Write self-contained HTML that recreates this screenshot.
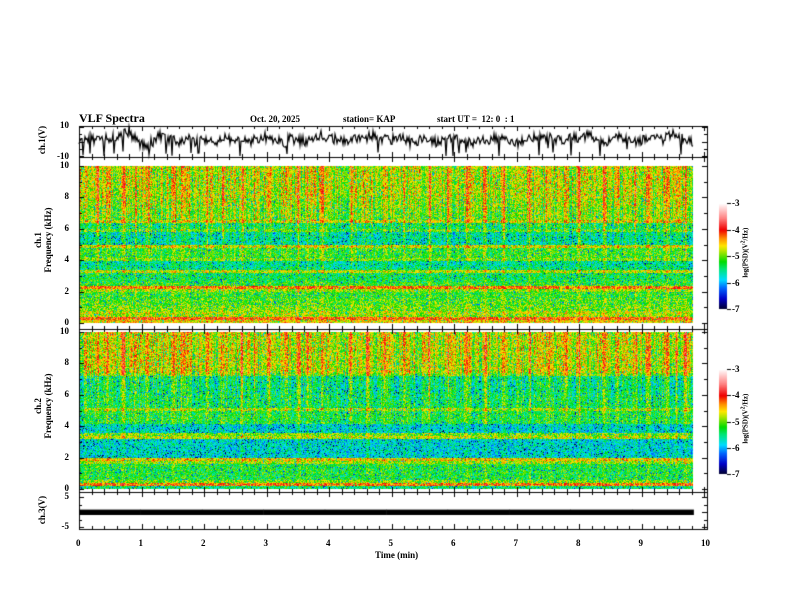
<!DOCTYPE html>
<html><head><meta charset="utf-8">
<style>
html,body{margin:0;padding:0;background:#fff;}
#wrap{position:relative;width:792px;height:612px;overflow:hidden;font-family:"Liberation Serif",serif;font-weight:bold;color:#000;}
.t{position:absolute;font-size:9px;white-space:nowrap;}
canvas{position:absolute;left:0;top:0;}
</style></head>
<body>
<div id="wrap">
<canvas id="cv" width="792" height="612"></canvas>
<div class="t" style="left:79px;top:111px;font-size:12px;">VLF Spectra</div>
<div class="t" style="left:250px;top:114px;">Oct. 20, 2025</div>
<div class="t" style="left:343px;top:114px;">station= KAP</div>
<div class="t" style="left:437px;top:114px;">start UT =&nbsp;&nbsp;12: 0&nbsp;&nbsp;: 1</div>
<div class="t" style="left:22px;top:135px;transform:rotate(-90deg);transform-origin:center;width:40px;text-align:center;">ch.1(V)</div>
<div class="t" style="left:-17px;top:230px;transform:rotate(-90deg);width:120px;text-align:center;line-height:10px;">ch.1<br>Frequency (kHz)</div>
<div class="t" style="left:-17px;top:396px;transform:rotate(-90deg);width:120px;text-align:center;line-height:10px;">ch.2<br>Frequency (kHz)</div>
<div class="t" style="left:22px;top:505px;transform:rotate(-90deg);width:40px;text-align:center;">ch.3(V)</div>
<div class="t" style="left:375px;top:550px;">Time (min)</div>
<div class="t" style="left:700px;top:248px;transform:rotate(-90deg);width:90px;text-align:center;font-size:7px;">log(PSD)(V<sup>2</sup>/Hz)</div>
<div class="t" style="left:700px;top:414px;transform:rotate(-90deg);width:90px;text-align:center;font-size:7px;">log(PSD)(V<sup>2</sup>/Hz)</div>
<div id="labels"></div>
</div>
<script>
// ---- data ----
const xTicks = [0,1,2,3,4,5,6,7,8,9,10];
const freqTicks = [0,2,4,6,8,10];
const cbTicks = [-3,-4,-5,-6,-7];
const dataEndMin = 9.83;
// ch1 waveform (V), evenly spaced 0..dataEndMin
const ch1Values = [0,1,2,1,3,2,4,6,7,2,-2,-2,0,4,3,1,0,2,1,-1,2,1,0,3,2,1,-1,0,1,2,3,1,0,-1,2,1,0,1,2,4,3,2,1,0,3,2,1,5,3,2,1,2,3,0,-1,1,2,0,-1,1,2,1,0,-1,0,2,1,3,2,1,0,-1,1,2,4,2,3,1,0,2,3,2,4,3,1,0,2,3,1,2,0,1,3,2,1,4,6,3,1,0];
// ch3 waveform band (V)
const ch3Min = [-1,-1,-1,-1,-1,-1,-1,-1,-1,-1];
const ch3Max = [0.8,0.8,0.8,0.8,0.8,0.8,0.8,0.8,0.8,0.8];
// spectrogram mean log PSD per 0.2 kHz bin (0 -> 10 kHz)
const spec1Profile = [-4.6,-4.2,-4.9,-4.8,-5.0,-5.0,-5.1,-5.1,-5.2,-5.2,-4.9,-4.3,-5.2,-5.3,-5.4,-5.4,-4.8,-5.5,-5.6,-5.6,-5.0,-5.2,-5.2,-5.2,-4.7,-5.6,-5.6,-5.6,-5.6,-5.1,-5.4,-5.4,-4.7,-5.0,-5.0,-5.0,-5.0,-4.9,-4.9,-4.9,-4.8,-4.8,-4.8,-4.8,-4.8,-4.8,-4.8,-4.8,-4.8,-4.8];
const spec2Profile = [-5.5,-4.3,-5.0,-5.3,-5.3,-5.3,-5.3,-5.3,-4.9,-4.6,-5.8,-5.8,-5.8,-5.8,-5.8,-5.8,-4.8,-5.0,-5.8,-5.8,-5.8,-5.3,-5.3,-5.3,-5.3,-4.9,-5.4,-5.4,-5.4,-5.4,-5.5,-5.5,-5.5,-5.5,-5.5,-5.5,-5.0,-4.8,-4.8,-4.8,-4.8,-4.8,-4.8,-4.8,-4.8,-4.8,-4.8,-4.8,-4.8,-4.8];
// emission burst times (min) and strengths
const burstTimes = [0.1,0.3,0.45,0.7,0.9,1.1,1.5,1.65,1.75,2.05,2.3,2.6,2.8,3.05,3.3,3.5,3.65,3.9,4.35,4.6,4.9,5.2,5.6,5.9,6.2,6.5,6.8,7.2,7.5,7.8,8.0,8.4,8.6,8.9,9.1,9.4,9.55,9.7];
const burstStrength = [0.6,0.8,0.5,0.7,0.5,0.6,0.9,0.6,0.5,0.7,0.6,0.8,0.5,0.7,0.6,0.8,0.5,0.6,0.7,0.6,0.8,0.5,0.7,0.6,0.8,0.7,0.6,0.8,0.7,0.6,0.8,0.9,0.6,0.7,0.8,0.9,0.6,0.7];

// ---- layout ----
const X0=79, X1=704, FR=707;
const P1={top:126,bot:157}, S1={top:157,bot:329,y10:166,y0:323}, S2={top:329,bot:492,y10:332,y0:489}, P3={top:492,bot:529,y5:497,yn5:527};
const xs = t => X0 + (X1-X0)*t/10;
const cv=document.getElementById('cv'), ctx=cv.getContext('2d');
function hash(a,b){let h=(a*374761393+b*668265263)|0;h=(h^(h>>>13))*1274126177|0;return ((h^(h>>>16))>>>0)/4294967296;}
const stops=[[0,0,0,40],[.1,0,0,200],[.2,0,100,255],[.28,0,220,255],[.38,0,230,120],[.45,0,220,0],[.55,180,230,0],[.6,255,230,0],[.67,255,140,0],[.75,240,0,0],[.86,255,130,130],[1,255,255,255]];
function cmap(v){let t=(v+7)/4;t=Math.max(0,Math.min(1,t));for(let i=1;i<stops.length;i++){if(t<=stops[i][0]){const a=stops[i-1],b=stops[i],f=(t-a[0])/(b[0]-a[0]);return [a[1]+f*(b[1]-a[1]),a[2]+f*(b[2]-a[2]),a[3]+f*(b[3]-a[3])];}}return [255,255,255];}

function drawSpec(S,profile,seed){
  const xEnd=Math.round(xs(dataEndMin)), w=xEnd-X0, h=S.y0-S.y10;
  const img=ctx.createImageData(w,h);
  const colAdd=[];
  for(let x=0;x<w;x++){const t=(x/(X1-X0))*10;let a=0;for(let k=0;k<burstTimes.length;k++){const d=Math.abs(t-burstTimes[k])*(X1-X0)/10;if(d<3)a+=burstStrength[k]*(1-d/3);}colAdd.push(a+(hash(x,seed)-0.5)*0.9);}
  for(let y=0;y<h;y++){
    const f=10*(1-y/h);const bin=Math.min(49,Math.floor(f/0.2));const base=profile[bin];
    const hw=Math.max(0,Math.min(1,(f-3)/4));
    for(let x=0;x<w;x++){
      const r=hash(x*7+seed,y*13);
      let v=base+colAdd[x]*(0.3+0.7*hw)*0.9+(r-0.5)*1.0;
      if(r<0.05)v-=0.6;
      const c=cmap(v),i=(y*w+x)*4;img.data[i]=c[0];img.data[i+1]=c[1];img.data[i+2]=c[2];img.data[i+3]=255;
    }
  }
  ctx.putImageData(img,X0,S.y10);
}
drawSpec(S1,spec1Profile,11);
drawSpec(S2,spec2Profile,29);

// ch1 waveform
const y1 = v => (P1.top+1) + (P1.bot-P1.top-2)*(10-v)/20;
ctx.strokeStyle='#000';ctx.lineWidth=1.2;ctx.beginPath();
const n=ch1Values.length, xEnd=xs(dataEndMin);
for(let px=X0;px<=xEnd;px+=1){
  const t=(px-X0)/(xEnd-X0)*(n-1);const i=Math.floor(t),f=t-i;
  let v=ch1Values[i]*(1-f)+(ch1Values[Math.min(n-1,i+1)])*f;
  v+=(hash(px,5)-0.5)*7; if(hash(px,9)>0.95)v-=10; v=Math.max(-10,Math.min(10,v));
  if(px===X0)ctx.moveTo(px,y1(v));else ctx.lineTo(px,y1(v));
}
ctx.stroke();
// ch3 band
const y3 = v => P3.y5 + (P3.yn5-P3.y5)*(5-v)/10;
ctx.fillStyle='#000';
for(let i=0;i<ch3Min.length;i++){const a=xs(i*dataEndMin/ch3Min.length),b=xs((i+1)*dataEndMin/ch3Min.length);ctx.fillRect(a,y3(ch3Max[i]),b-a+0.5,y3(ch3Min[i])-y3(ch3Max[i]));}

// frames and ticks
ctx.strokeStyle='#000';ctx.lineWidth=1;
function frame(top,bot){ctx.strokeRect(X0+0.5,top+0.5,FR-X0,bot-top);
  for(let k=0;k<=50;k++){const x=Math.round(xs(k*0.2))+0.5;const L=(k%5===0)?5:3;ctx.beginPath();ctx.moveTo(x,top);ctx.lineTo(x,top+L);ctx.moveTo(x,bot);ctx.lineTo(x,bot-L);ctx.stroke();}}
[P1,S1,S2,P3].forEach(p=>frame(p.top,p.bot));
function yticks(y0,y1v,n,minor){for(let k=0;k<=n*minor;k++){const y=Math.round(y0+(y1v-y0)*k/(n*minor))+0.5;const L=(k%minor===0)?5:3;ctx.beginPath();ctx.moveTo(X0,y);ctx.lineTo(X0+L,y);ctx.moveTo(FR,y);ctx.lineTo(FR-L,y);ctx.stroke();}}
yticks(S1.y0,S1.y10,5,2);yticks(S2.y0,S2.y10,5,2);yticks(P1.top+1,P1.bot-1,2,2);yticks(P3.y5,P3.yn5,2,2);

// colorbars
const CB=[{top:203,bot:309},{top:369,bot:474}];
const labels=document.getElementById('labels');
function addLabel(txt,x,y,name,align){const d=document.createElement('div');d.className='t';d.textContent=txt;d.style.left=x+'px';d.style.top=y+'px';if(align==='r'){d.style.width='24px';d.style.textAlign='right';}


labels.appendChild(d);}
CB.forEach((c,ci)=>{
  for(let y=c.top;y<c.bot;y++){const v=-3-4*(y-c.top)/(c.bot-c.top);const col=cmap(v);ctx.fillStyle=`rgb(${col[0]|0},${col[1]|0},${col[2]|0})`;ctx.fillRect(719,y,8,1);}
  cbTicks.forEach(v=>{const y=Math.round(c.top+(c.bot-c.top)*(-3-v)/4)+0.5;ctx.beginPath();ctx.moveTo(727,y);ctx.lineTo(731,y);ctx.stroke();addLabel(String(v),732,y-6,'colorbar'+(ci+1)+'-tick');});
});
// axis labels
xTicks.forEach(t=>addLabel(String(t),xs(t)-3,538,'x-tick-label'));
freqTicks.forEach(f=>{addLabel(String(f),45,S1.y0-(S1.y0-S1.y10)*f/10-6,'spec1-y-tick','r');addLabel(String(f),45,S2.y0-(S2.y0-S2.y10)*f/10-6,'spec2-y-tick','r');});
addLabel('10',45,P1.top-6,'ch1-y-tick','r');addLabel('-10',45,P1.bot-6,'ch1-y-tick','r');
addLabel('5',45,P3.y5-6,'ch3-y-tick','r');addLabel('-5',45,P3.yn5-6,'ch3-y-tick','r');
</script>
</body></html>
